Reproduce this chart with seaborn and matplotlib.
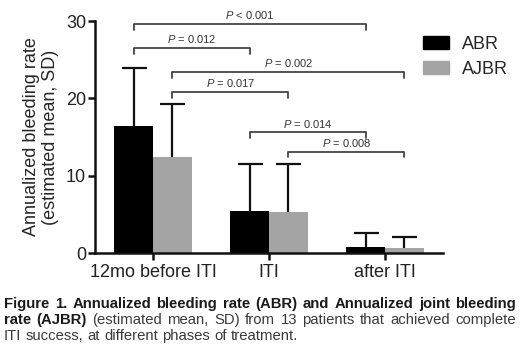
import matplotlib
matplotlib.use("Agg")
import matplotlib.pyplot as plt
import seaborn as sns
import pandas as pd
import numpy as np

# ---------------- data ----------------
phases = ["12mo before ITI", "ITI", "after ITI"]
series = ["ABR", "AJBR"]
abr_mean = [16.4, 5.4, 0.8]
abr_sd = [7.5, 6.1, 1.8]
ajbr_mean = [12.4, 5.3, 0.7]
ajbr_sd = [6.9, 6.2, 1.4]
y_ticks = [0, 10, 20, 30]
y_label = "Annualized bleeding rate\n(estimated mean, SD)"

# comparisons: (phase_a, series_a, phase_b, series_b, p-text)
comparisons = [
    ("12mo before ITI", "ABR", "after ITI", "ABR", "< 0.001"),
    ("12mo before ITI", "ABR", "ITI", "ABR", "= 0.012"),
    ("12mo before ITI", "AJBR", "after ITI", "AJBR", "= 0.002"),
    ("12mo before ITI", "AJBR", "ITI", "AJBR", "= 0.017"),
    ("ITI", "ABR", "after ITI", "ABR", "= 0.014"),
    ("ITI", "AJBR", "after ITI", "AJBR", "= 0.008"),
]
bracket_heights = [29.6, 26.5, 23.4, 20.8, 15.6, 13.1]

caption_lines = [
    [("Figure 1. Annualized bleeding rate (ABR) and Annualized joint bleeding", "bold")],
    [("rate (AJBR)", "bold"), ("(estimated mean, SD) from 13 patients that achieved complete", "normal")],
    [("ITI success, at different phases of treatment.", "normal")],
]

# ---------------- style ----------------
sns.set_style("ticks")
plt.rcParams["font.family"] = ["Liberation Sans", "DejaVu Sans"]
plt.rcParams["mathtext.fontset"] = "custom"
plt.rcParams["mathtext.rm"] = "Liberation Sans"
plt.rcParams["mathtext.it"] = "Liberation Sans:italic"

df = pd.DataFrame({
    "phase": phases * 2,
    "series": [series[0]] * 3 + [series[1]] * 3,
    "mean": abr_mean + ajbr_mean,
    "sd": abr_sd + ajbr_sd,
})

W, H = 520, 357
fig = plt.figure(figsize=(W / 100, H / 100), dpi=100)
ax = fig.add_axes([95 / W, 1 - 253 / H, 348 / W, 232 / H])

sns.barplot(data=df, x="phase", y="mean", hue="series", order=phases,
            hue_order=series, palette=["#000000", "#a4a4a4"], width=0.67,
            errorbar=None, saturation=1, ax=ax, legend=False, linewidth=0)

# bar centers from the drawn patches
centers = {}
for h, s in enumerate(series):
    for i, p in enumerate(phases):
        bar = ax.containers[h][i]
        centers[(p, s)] = bar.get_x() + bar.get_width() / 2

for s, m, sd in [("ABR", abr_mean, abr_sd), ("AJBR", ajbr_mean, ajbr_sd)]:
    xs = [centers[(p, s)] for p in phases]
    _, caps, _ = ax.errorbar(xs, m, yerr=[np.zeros(len(sd)), sd], fmt="none",
                             ecolor="#111111", elinewidth=1.6, capsize=9,
                             capthick=1.6, zorder=3)
    # keep only the upper caps (one-sided SD bars)
    for c in caps:
        if np.allclose(c.get_ydata(), m):
            c.set_visible(False)

ax.set_xlim(-0.5, 2.5)
ax.set_ylim(0, 30)
ax.set_yticks(y_ticks)
ax.set_xlabel("")
ax.set_ylabel(y_label, fontsize=13, labelpad=5, linespacing=1.15)
ax.tick_params(axis="both", labelsize=13, width=1.8, length=5, color="#111111",
               pad=1.5, labelcolor="#222222")
ax.tick_params(axis="x", pad=3)
sns.despine(ax=ax)
for sp in ["left", "bottom"]:
    ax.spines[sp].set_linewidth(1.8)
    ax.spines[sp].set_color("#111111")

# significance brackets
drop = 0.75
for (pa, sa, pb, sb, txt), yb in zip(comparisons, bracket_heights):
    x1, x2 = centers[(pa, sa)], centers[(pb, sb)]
    ax.plot([x1, x1, x2, x2], [yb - drop, yb, yb, yb - drop], color="#444444",
            lw=1.3, clip_on=False, zorder=4)
    ax.text((x1 + x2) / 2, yb + 0.35, r"$P$" + " " + txt, ha="center", va="bottom",
            fontsize=8, color="#333333", clip_on=False)

# legend
handles = [plt.Rectangle((0, 0), 1, 1, color=c) for c in ["#000000", "#a4a4a4"]]
fig.legend(handles, series, loc="upper left", bbox_to_anchor=(423 / W, 1 - 36 / H),
           frameon=False, fontsize=13, handlelength=1.45, handleheight=0.75,
           handletextpad=0.7, labelspacing=0.45, borderpad=0, borderaxespad=0)

# caption with justification
fig.canvas.draw()
r = fig.canvas.get_renderer()
x_left, x_right = 4, 516
line_y = [304, 320, 336]

# fit the caption size so the first (bold) line fills the width naturally
probe = fig.text(0, 0, caption_lines[0][0][0], fontsize=10, fontweight="bold")
w10 = probe.get_window_extent(r).width
probe.remove()
cap_size = min(11.0, 10 * (x_right - x_left) / w10 * 0.985)

for li, (segs, yy) in enumerate(zip(caption_lines, line_y)):
    words = []
    for text, wt in segs:
        for w in text.split(" "):
            words.append((w, wt))
    arts = [fig.text(0, 1 - yy / H, w, fontsize=cap_size, fontweight=wt, ha="left",
                     va="center", color="#1a1a1a" if wt == "bold" else "#3a3a3a")
            for w, wt in words]
    widths = [a.get_window_extent(r).width for a in arts]
    justify = li < len(caption_lines) - 1
    natural_gap = cap_size * 0.278 * 100 / 72
    if justify:
        gap = (x_right - x_left - sum(widths)) / (len(arts) - 1)
    else:
        gap = natural_gap
    x = x_left
    for a, w in zip(arts, widths):
        a.set_position((x / W, 1 - yy / H))
        x += w + gap

fig.savefig("out.png", dpi=100)
